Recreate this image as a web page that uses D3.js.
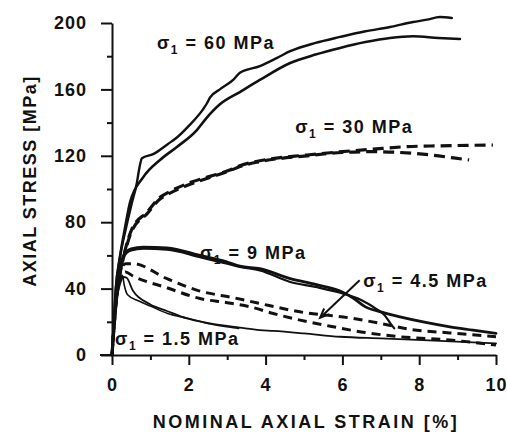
<!DOCTYPE html>
<html>
<head>
<meta charset="utf-8">
<script src="https://cdn.jsdelivr.net/npm/d3@7"></script>
<style>
  html, body { margin: 0; padding: 0; background: #fff; }
  svg { display: block; }
  text { font-family: "Liberation Sans", Arial, sans-serif; font-weight: bold; fill: #111; }
</style>
</head>
<body>
<svg id="chart" width="507" height="441"></svg>
<script>
// ---- data (strain %, axial stress MPa) ----
const xTicks = [0, 2, 4, 6, 8, 10];
const xMinorTicks = [1, 3, 5, 7, 9];
const yTicks = [0, 40, 80, 120, 160, 200];
const yMinorTicks = [20, 60, 100, 140, 180];

const s60a = [[0,0],[0.05,20],[0.1,40],[0.2,58],[0.35,75],[0.5,90],[0.65,104],[0.7,111],[0.78,118.5],[1.07,121],[1.45,127],[1.69,131],[2.0,138],[2.37,148],[2.47,151.5],[2.55,155],[2.81,160],[3.17,166],[3.33,170],[3.85,174],[4.3,179],[4.64,183],[5.3,188],[5.94,191.6],[6.6,195],[7.24,197.6],[7.84,200.6],[8.2,202],[8.54,203.6],[8.85,203]];
const s60b = [[0,0],[0.05,20],[0.1,40],[0.2,58],[0.35,78],[0.47,92],[0.81,107],[1.25,117.5],[1.69,125.3],[2.21,135.5],[2.47,143],[2.81,151],[3.33,158.4],[3.85,165.7],[4.64,175.9],[5.3,181],[5.94,185],[6.6,188.5],[7.24,191],[7.84,192],[8.5,191],[9.06,190.4]];

const s30a = [[0,0],[0.1,30],[0.2,48],[0.34,63],[0.52,76],[0.91,86],[1.25,95],[1.43,97.5],[2.05,104],[2.55,107.6],[3.07,111.4],[3.33,114],[3.85,117],[5.08,120.5],[6.0,122.5],[6.8,124],[7.68,125.5],[8.54,126],[9.92,126.5]];
const s30b = [[0,0],[0.1,30],[0.2,48],[0.34,62],[0.52,75],[0.91,85],[1.25,94],[1.43,96.5],[2.05,103],[2.55,107],[3.07,111],[3.33,113.5],[3.85,116.5],[5.08,120],[6.0,122],[6.8,122.5],[7.5,122],[8.3,120.5],[8.9,118.7],[9.3,117.5]];

const s9a = [[0,0],[0.1,30],[0.2,50],[0.3,60],[0.5,64],[0.81,65],[1.43,64.5],[2.29,60],[3.0,56],[3.33,53.5],[3.85,52],[4.64,46],[5.3,42.5],[5.94,38.5],[6.3,34],[6.6,29],[7.0,26],[7.5,23],[8.2,19.5],[8.8,17],[9.4,15],[10,13]];
const s9b = [[0,0],[0.1,30],[0.2,50],[0.3,59],[0.5,63],[0.81,64],[1.43,63.5],[2.29,59],[3.0,55],[3.33,53],[3.85,51],[4.64,44],[5.3,41],[5.94,37.5],[6.5,33],[6.9,27.5],[7.1,24],[7.25,19],[7.35,16]];

const s45a = [[0,0],[0.1,30],[0.2,48],[0.35,55],[0.55,55],[1.43,46],[2.29,38.5],[3.17,34.5],[3.85,31],[4.89,26],[6.2,22.3],[7.0,19],[7.76,15.5],[8.8,13.3],[10,11]];
const s45b = [[0.2,45],[0.35,50],[0.55,47.5],[1.43,40.5],[2.29,34],[3.0,31.5],[3.6,29],[4.2,25],[4.9,21],[5.76,17],[6.6,13.5],[7.5,11],[8.8,9],[10,6]];

const s15a = [[0,0],[0.1,30],[0.2,42],[0.3,47],[0.38,46.5],[0.55,38.5],[0.99,30.6],[1.43,26.5],[1.95,22],[2.55,19],[3.33,16.5],[3.85,15],[4.2,14.5],[5.0,13],[5.94,11],[7.0,10],[8.1,9],[10,7]];
const s15b = [[0,0],[0.1,32],[0.2,45],[0.27,48],[0.32,42],[0.4,36.5],[0.7,32.5],[1.0,29.5],[1.45,25],[2.0,22],[2.6,18.5],[3.3,16]];

const confining = ["60", "30", "9", "4.5", "1.5"];
const labelAt = [[1.17,184.6],[4.77,134],[2.29,58],[6.54,40.7],[0.08,6]];
const arrowFrom = [6.45, 45];
const arrowTo = [5.42, 22.5];

// ---- drawing ----
const svg = d3.select("#chart");
const x = d3.scaleLinear().domain([0, 10]).range([112, 496]);
const y = d3.scaleLinear().domain([0, 200]).range([355, 23]);

const line = d3.line().x(d => x(d[0])).y(d => y(d[1])).curve(d3.curveMonotoneX);

function drawSeries(data, width, dash, offset) {
  const p = svg.append("path").datum(data).attr("d", line)
    .attr("fill", "none").attr("stroke", "#111").attr("stroke-width", width)
    .attr("stroke-linejoin", "round").attr("stroke-linecap", dash ? "butt" : "round");
  if (dash) p.attr("stroke-dasharray", dash).attr("stroke-dashoffset", offset || 0);
}
drawSeries(s60a, 2.4);
drawSeries(s60b, 2.6);
drawSeries(s30a, 3.2, "11,6", 0);
drawSeries(s30b, 3.2, "11,6", 8);
drawSeries(s9a, 2.8);
drawSeries(s9b, 2.2);
drawSeries(s45a, 3, "9,6", 0);
drawSeries(s45b, 3, "9,6", 5);
drawSeries(s15a, 1.8);
drawSeries(s15b, 1.6);

// axes
svg.append("g").attr("transform", `translate(0,${y(0)})`)
  .call(d3.axisBottom(x).tickValues(xTicks).tickSize(10).tickSizeOuter(0).tickPadding(13).tickFormat(d3.format("d")));
svg.append("g").attr("transform", `translate(0,${y(0)})`)
  .call(d3.axisBottom(x).tickValues(xMinorTicks).tickSize(5).tickSizeOuter(0).tickFormat(""))
  .select(".domain").remove();
svg.append("g").attr("transform", `translate(${x(0)},0)`)
  .call(d3.axisLeft(y).tickValues(yTicks).tickSize(11).tickSizeOuter(0).tickPadding(14).tickFormat(d3.format("d")));
svg.append("g").attr("transform", `translate(${x(0)},0)`)
  .call(d3.axisLeft(y).tickValues(yMinorTicks).tickSize(5).tickSizeOuter(0).tickFormat(""))
  .select(".domain").remove();

svg.selectAll(".domain, .tick line").attr("stroke", "#111").attr("stroke-width", 2);
svg.selectAll(".tick text").style("font-size", "18px").style("letter-spacing", "1px")
  .style("font-family", '"Liberation Sans", Arial, sans-serif').style("font-weight", "bold").attr("fill", "#111");
// extend x-axis line left to meet the zero tick
svg.append("line").attr("x1", x(0) - 12).attr("x2", x(0)).attr("y1", y(0)).attr("y2", y(0))
  .attr("stroke", "#111").attr("stroke-width", 2);

// axis titles
svg.append("text").attr("x", (x(0) + x(10)) / 2 + 2).attr("y", 428)
  .attr("text-anchor", "middle").style("font-size", "18px").style("letter-spacing", "2.5px")
  .text("NOMINAL AXIAL STRAIN [%]");
svg.append("text").attr("transform", `translate(36,${(y(0) + y(200)) / 2 - 8}) rotate(-90)`)
  .attr("text-anchor", "middle").style("font-size", "18px").style("letter-spacing", "1.5px")
  .text("AXIAL STRESS [MPa]");

// curve labels
confining.forEach((c, i) => {
  const t = svg.append("text").attr("x", x(labelAt[i][0])).attr("y", y(labelAt[i][1]))
    .style("font-size", "18px").style("letter-spacing", "1.5px");
  t.append("tspan").text("σ");
  t.append("tspan").attr("dy", 5).style("font-size", "12px").text("1");
  t.append("tspan").attr("dy", -5).text(" = " + c + " MPa");
});

// arrow for 4.5 MPa
const ax1 = x(arrowFrom[0]), ay1 = y(arrowFrom[1]), ax2 = x(arrowTo[0]), ay2 = y(arrowTo[1]);
svg.append("line").attr("x1", ax1).attr("y1", ay1).attr("x2", ax2).attr("y2", ay2)
  .attr("stroke", "#111").attr("stroke-width", 2);
const ang = Math.atan2(ay2 - ay1, ax2 - ax1);
const hl = 10, ha = 0.4;
svg.append("path")
  .attr("d", `M${ax2 - hl * Math.cos(ang - ha)},${ay2 - hl * Math.sin(ang - ha)} L${ax2},${ay2} L${ax2 - hl * Math.cos(ang + ha)},${ay2 - hl * Math.sin(ang + ha)}`)
  .attr("fill", "none").attr("stroke", "#111").attr("stroke-width", 2);
</script>
</body>
</html>
